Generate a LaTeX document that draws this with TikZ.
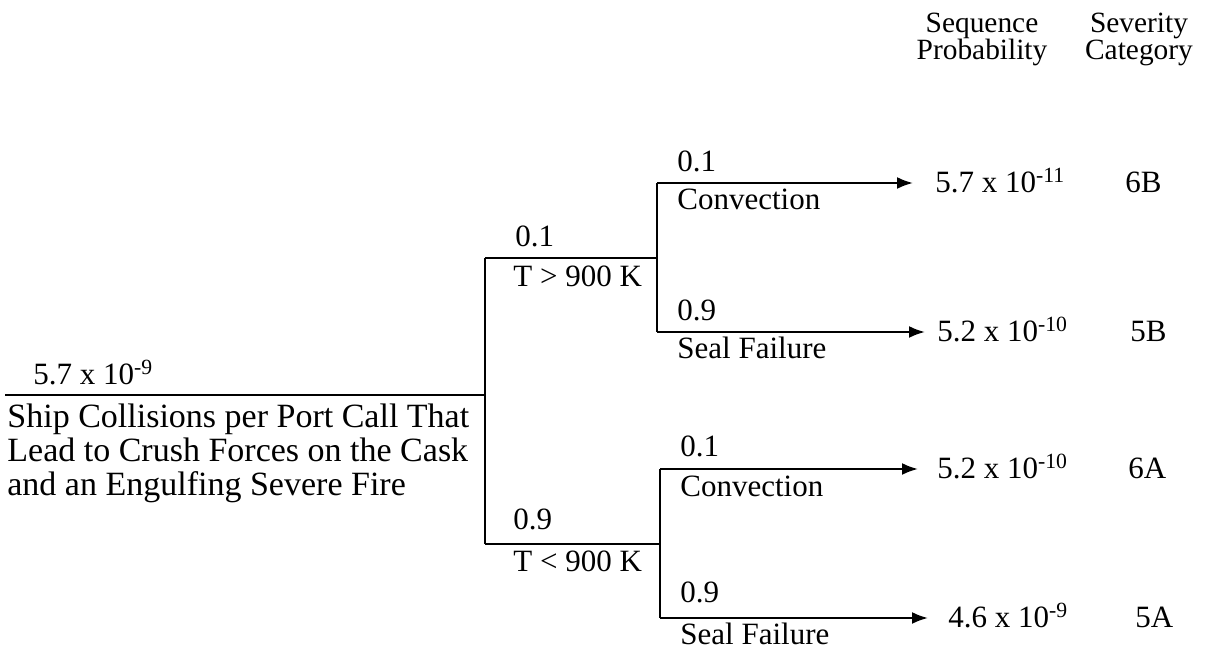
\documentclass[tikz,border=0pt]{standalone}
\usepackage{fontspec}
\setmainfont{Liberation Serif}
\usetikzlibrary{arrows.meta}
\begin{document}
\begin{tikzpicture}[x=0.5pt,y=-0.5pt,
  branch/.style={line width=1.1pt},
  arr/.style={line width=1.1pt,-{Latex[length=8pt,width=6pt]}},
  lbl/.style={font=\fontsize{15.5}{17}\selectfont,inner sep=0pt,anchor=base west},
  res/.style={font=\fontsize{15.5}{17}\selectfont,inner sep=0pt,anchor=base west},
  head/.style={font=\fontsize{14.7}{13.5}\selectfont,inner sep=0pt,anchor=north,align=center},
  desc/.style={font=\fontsize{17}{17}\selectfont,inner sep=0pt,anchor=north west,align=left}]
\useasboundingbox (0,0) rectangle (1207,652);
% junction coordinates
\coordinate (r0) at (5,395);
\coordinate (j0) at (485,395);
\coordinate (jU) at (485,258);
\coordinate (jL) at (485,544);
\coordinate (kU) at (657,258);
\coordinate (kL) at (660,544);
\coordinate (u1) at (657,183);
\coordinate (u2) at (657,332);
\coordinate (l1) at (660,469);
\coordinate (l2) at (660,618);
\coordinate (t1) at (913,183);
\coordinate (t2) at (925,332);
\coordinate (t3) at (918,469);
\coordinate (t4) at (928,618);
% headers
\node[head] (h1) at (982,13) {Sequence\\Probability};
\node[head] (h2) at (1139,13) {Severity\\Category};
% root
\draw[branch] (r0) -- (j0);
\node[lbl] (rp) at (33,385) {5.7 x 10\textsuperscript{-9}};
\node[desc] (rd) at (7,404) {Ship Collisions per Port Call That\\Lead to Crush Forces on the Cask\\and an Engulfing Severe Fire};
% first split
\draw[branch] (jU) -- (jL);
\draw[branch] (jU) -- (kU);
\draw[branch] (jL) -- (kL);
\node[lbl] (pu) at (515,247) {0.1};
\node[lbl] (cu) at (513,287) {T > 900 K};
\node[lbl] (pl) at (513,530) {0.9};
\node[lbl] (cl) at (513,572) {T < 900 K};
% second splits
\draw[branch] (u1) -- (u2);
\draw[branch] (l1) -- (l2);
\draw[arr] (u1) -- (t1);
\draw[arr] (u2) -- (t2);
\draw[arr] (l1) -- (t3);
\draw[arr] (l2) -- (t4);
\node[lbl] (a1) at (677,172) {0.1};
\node[lbl] (b1) at (677,210) {Convection};
\node[lbl] (a2) at (677,321) {0.9};
\node[lbl] (b2) at (677,359) {Seal Failure};
\node[lbl] (a3) at (680,457) {0.1};
\node[lbl] (b3) at (680,497) {Convection};
\node[lbl] (a4) at (680,603) {0.9};
\node[lbl] (b4) at (680,645) {Seal Failure};
% results
\node[res] (s1) at (935,193) {5.7 x 10\textsuperscript{-11}};
\node[res] (s2) at (937,342) {5.2 x 10\textsuperscript{-10}};
\node[res] (s3) at (937,479) {5.2 x 10\textsuperscript{-10}};
\node[res] (s4) at (948,628) {4.6 x 10\textsuperscript{-9}};
\node[res] (c1) at (1125,193) {6B};
\node[res] (c2) at (1130,342) {5B};
\node[res] (c3) at (1128,479) {6A};
\node[res] (c4) at (1135,628) {5A};
\end{tikzpicture}
\end{document}
